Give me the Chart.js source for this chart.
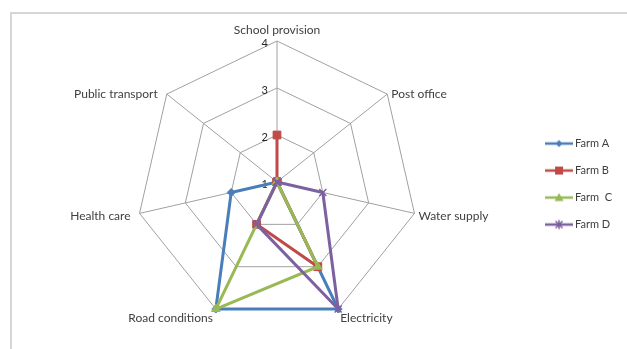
<!DOCTYPE html>
<html>
<head>
<meta charset="utf-8">
<script src="https://cdn.jsdelivr.net/npm/chart.js@4/dist/chart.umd.min.js"></script>
<style>
  html, body { margin: 0; padding: 0; background: #fff; overflow: hidden; width: 627px; height: 349px; }
  #frame { position: absolute; left: 10px; top: 12px; width: 640px; height: 360px;
           border: 2px solid #d6d6d6; border-right: none; border-bottom: none; box-sizing: border-box; }
  #c { position: absolute; left: 0; top: 0; }
</style>
</head>
<body>
<div id="frame"></div>
<canvas id="c" width="627" height="349"></canvas>
<script>
// Service ratings per farm (1 = poor ... 4 = good)
const categories = ['School provision', 'Post office', 'Water supply', 'Electricity',
                    'Road conditions', 'Health care', 'Public transport'];
const farmA = [1, 1, 1, 4, 4, 2, 1];
const farmB = [2, 1, 1, 3, 2, 1, 1];
const farmC = [1, 1, 1, 3, 4, 1, 1];
const farmD = [1, 1, 2, 4, 2, 1, 1];
const seriesNames = ['Farm A', 'Farm B', 'Farm  C', 'Farm D'];
const tickValues = [1, 2, 3, 4];

const colors = ['#4a7ebb', '#be4b48', '#98b954', '#7d60a0'];
const markers = ['rectRot', 'rect', 'triangle', 'crossRot'];
const markerSizes = [4, 5.5, 5, 5];

// Small line-plus-marker swatches for the legend
function legendIcon(color, shape) {
  const c = document.createElement('canvas');
  c.width = 28; c.height = 12;
  const g = c.getContext('2d');
  g.strokeStyle = color; g.fillStyle = color;
  g.lineWidth = 2.5;
  g.beginPath(); g.moveTo(0, 6); g.lineTo(28, 6); g.stroke();
  g.lineWidth = 1.5;
  g.beginPath();
  if (shape === 'rectRot') {
    g.moveTo(14, 2.5); g.lineTo(17.5, 6); g.lineTo(14, 9.5); g.lineTo(10.5, 6); g.closePath(); g.fill();
  } else if (shape === 'rect') {
    g.fillRect(10, 2, 8, 8);
  } else if (shape === 'triangle') {
    g.moveTo(14, 1.5); g.lineTo(18.5, 9.5); g.lineTo(9.5, 9.5); g.closePath(); g.fill();
  } else {
    g.moveTo(10.5, 2.5); g.lineTo(17.5, 9.5); g.moveTo(17.5, 2.5); g.lineTo(10.5, 9.5);
    g.moveTo(14, 1.5); g.lineTo(14, 10.5); g.stroke();
  }
  return c;
}
const icons = colors.map((c, i) => legendIcon(c, markers[i]));

// Scale numbers and category names around the web
const axisText = {
  id: 'axisText',
  beforeDatasetsDraw(chart) {
    const s = chart.scales.r;
    const ctx = chart.ctx;
    ctx.save();
    ctx.font = '11px Lato';
    ctx.fillStyle = '#262626';
    ctx.textAlign = 'right';
    ctx.textBaseline = 'middle';
    tickValues.forEach(v => {
      const d = s.getDistanceFromCenterForValue(v);
      ctx.fillText(String(v), s.xCenter - 9, s.yCenter - d + 2);
    });
    ctx.font = '12px Lato';
    ctx.fillStyle = '#404040';
    const n = categories.length;
    categories.forEach((label, i) => {
      const deg = i * 360 / n;
      const p = s.getPointPosition(i, s.drawingArea);
      let x, y, align, base = 'middle';
      if (deg === 0) {
        align = 'center'; base = 'bottom'; x = p.x; y = p.y - 5;
      } else if (deg > 120 && deg < 240) {
        align = deg < 180 ? 'left' : 'right';
        x = p.x + (deg < 180 ? 2 : -3);
        y = p.y + 9;
      } else if (deg < 180) {
        align = 'left'; x = p.x + 4; y = p.y + (deg > 90 ? 3 : 0);
      } else {
        align = 'right'; x = p.x - 9; y = p.y + (deg < 270 ? 3 : 0);
      }
      ctx.textAlign = align;
      ctx.textBaseline = base;
      ctx.fillText(label, x, y);
    });
    ctx.restore();
  }
};

const seriesData = [farmA, farmB, farmC, farmD];
const datasets = seriesData.map((d, i) => ({
  label: seriesNames[i],
  data: d,
  borderColor: colors[i],
  backgroundColor: colors[i],
  pointBackgroundColor: colors[i],
  pointBorderColor: colors[i],
  pointStyle: markers[i],
  pointRadius: markerSizes[i],
  pointBorderWidth: markers[i] === 'crossRot' ? 1.5 : 1,
  borderWidth: 3,
  fill: false,
  tension: 0,
  order: seriesData.length - 1 - i
}));

new Chart(document.getElementById('c'), {
  type: 'radar',
  data: { labels: categories, datasets },
  options: {
    responsive: false,
    animation: false,
    devicePixelRatio: 1,
    events: [],
    layout: { padding: { left: 22, right: 5, top: 41, bottom: 26 } },
    scales: {
      r: {
        min: 1,
        max: 4,
        ticks: { stepSize: 1, display: false },
        grid: { color: '#a0a0a0', lineWidth: 1 },
        angleLines: { color: '#a0a0a0', lineWidth: 1 },
        pointLabels: { display: false }
      }
    },
    plugins: {
      tooltip: { enabled: false },
      legend: {
        position: 'right',
        align: 'center',
        title: { display: true, text: '', padding: { top: 2, bottom: 2 }, font: { size: 0.01 } },
        labels: {
          usePointStyle: true,
          pointStyleWidth: 21,
          padding: 16,
          color: '#404040',
          font: { family: 'Lato', size: 11 },
          sort: (a, b) => a.datasetIndex - b.datasetIndex,
          generateLabels(chart) {
            const items = Chart.defaults.plugins.legend.labels.generateLabels(chart);
            items.forEach(it => { it.pointStyle = icons[it.datasetIndex]; });
            return items;
          }
        }
      }
    }
  },
  plugins: [axisText]
});
</script>
</body>
</html>
